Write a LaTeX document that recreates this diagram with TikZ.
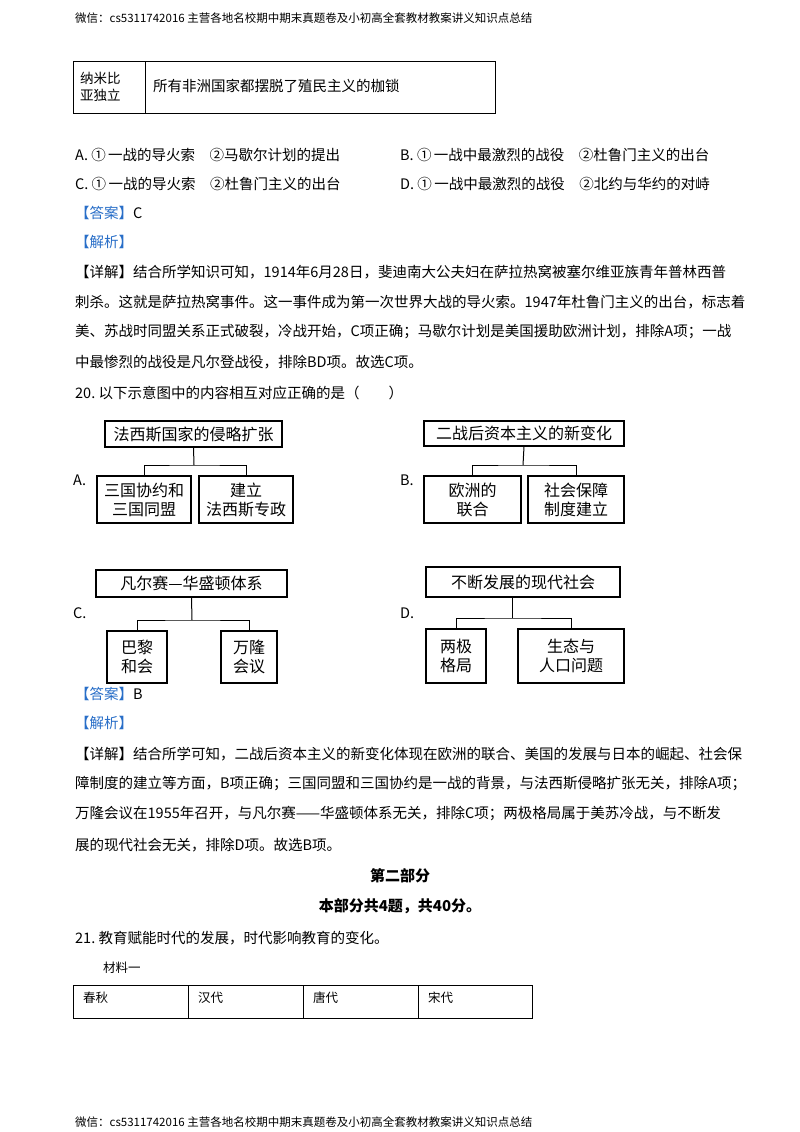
\documentclass[tikz,border=0pt]{standalone}
\usepackage{fontspec}
\setmainfont{Liberation Serif}
\newfontfamily\cjk{Noto Sans CJK SC}
\definecolor{ansblue}{RGB}{40,110,200}
\begin{document}
\begin{tikzpicture}[x=1pt,y=-1pt,
  txt/.style={anchor=west,inner sep=0pt,font=\fontsize{14.5}{16}\selectfont\cjk},
  small/.style={anchor=west,inner sep=0pt,font=\fontsize{11.5}{13}\selectfont\cjk},
  bx/.style={draw,line width=1.1pt,inner sep=0pt,font=\fontsize{16}{19}\selectfont\cjk,align=center},
  conn/.style={line width=1pt},
  tb/.style={draw,line width=1pt}]
\useasboundingbox[fill=white] (0,0) rectangle (800,1132);
% header and footer
\node[small] (hd) at (75,18) {微信：cs5311742016\ 主营各地名校期中期末真题卷及小初高全套教材教案讲义知识点总结};
\node[small] (ft) at (75,1122) {微信：cs5311742016\ 主营各地名校期中期末真题卷及小初高全套教材教案讲义知识点总结};
% top table
\draw[tb] (73,62) rectangle (495,113);
\draw[tb] (145,62) -- (145,113);
\node[txt,align=left,font=\fontsize{13.5}{17}\selectfont\cjk] (t1) at (80,87) {纳米比\\亚独立};
\node[txt] (t2) at (153,86) {所有非洲国家都摆脱了殖民主义的枷锁};
% options
\node[txt] (oa) at (75,155) {A.\ ①\,一战的导火索\quad ②马歇尔计划的提出};
\node[txt] (ob) at (400,155) {B.\ ①\,一战中最激烈的战役\quad ②杜鲁门主义的出台};
\node[txt] (oc) at (75,184) {C.\ ①\,一战的导火索\quad ②杜鲁门主义的出台};
\node[txt] (od) at (400,184) {D.\ ①\,一战中最激烈的战役\quad ②北约与华约的对峙};
\node[txt] (ans1) at (75,213) {\textcolor{ansblue}{【答案】}C};
\node[txt] (jx1) at (75,242) {\textcolor{ansblue}{【解析】}};
\node[txt] (d11) at (75,272) {【详解】结合所学知识可知，1914年6月28日，斐迪南大公夫妇在萨拉热窝被塞尔维亚族青年普林西普};
\node[txt] (d12) at (75,302) {刺杀。这就是萨拉热窝事件。这一事件成为第一次世界大战的导火索。1947年杜鲁门主义的出台，标志着};
\node[txt] (d13) at (75,332) {美、苏战时同盟关系正式破裂，冷战开始，C项正确；马歇尔计划是美国援助欧洲计划，排除A项；一战};
\node[txt] (d14) at (75,362) {中最惨烈的战役是凡尔登战役，排除BD项。故选C项。};
\node[txt] (q20) at (75,393) {20.\ 以下示意图中的内容相互对应正确的是（\qquad）};
% Diagram A
\node[bx,minimum width=177pt,minimum height=26pt] (aT) at (193.5,434) {法西斯国家的侵略扩张};
\node[bx,minimum width=94pt,minimum height=47pt] (aL) at (144,499.5) {三国协约和\\三国同盟};
\node[bx,minimum width=94pt,minimum height=47pt] (aR) at (246,499.5) {建立\\法西斯专政};
\node[txt] (la) at (73,480) {A.};
\coordinate (aM) at (194,465);
\draw[conn] (aT.south) -- (aM);
\draw[conn] (aL.north) |- (aM) -| (aR.north);
% Diagram B
\node[bx,minimum width=200pt,minimum height=25pt] (bT) at (524,433.5) {二战后资本主义的新变化};
\node[bx,minimum width=97pt,minimum height=47pt] (bL) at (472.5,499.5) {欧洲的\\联合};
\node[bx,minimum width=96pt,minimum height=47pt] (bR) at (576,499.5) {社会保障\\制度建立};
\node[txt] (lb) at (400,480) {B.};
\coordinate (bM) at (523,465);
\draw[conn] (bT.south) -- (bM);
\draw[conn] (bL.north) |- (bM) -| (bR.north);
% Diagram C
\node[bx,minimum width=191pt,minimum height=27pt] (cT) at (191.5,583.5) {凡尔赛—华盛顿体系};
\node[bx,minimum width=60pt,minimum height=52pt] (cL) at (137,657) {巴黎\\和会};
\node[bx,minimum width=56pt,minimum height=52pt] (cR) at (249,657) {万隆\\会议};
\node[txt] (lc) at (73,613) {C.};
\coordinate (cM) at (192,620);
\draw[conn] (cT.south) -- (cM);
\draw[conn] (cL.north) |- (cM) -| (cR.north);
% Diagram D
\node[bx,minimum width=194pt,minimum height=30pt] (dT) at (523,582) {不断发展的现代社会};
\node[bx,minimum width=60pt,minimum height=54pt] (dL) at (456,656) {两极\\格局};
\node[bx,minimum width=106pt,minimum height=54pt] (dR) at (571,656) {生态与\\人口问题};
\node[txt] (ld) at (400,613) {D.};
\coordinate (dM) at (512,618);
\draw[conn] (dM |- dT.south) -- (dM);
\draw[conn] (dL.north) |- (dM) -| (dR.north);
% answer 2
\node[txt] (ans2) at (75,694) {\textcolor{ansblue}{【答案】}B};
\node[txt] (jx2) at (75,723) {\textcolor{ansblue}{【解析】}};
\node[txt] (d21) at (75,754) {【详解】结合所学可知，二战后资本主义的新变化体现在欧洲的联合、美国的发展与日本的崛起、社会保};
\node[txt] (d22) at (75,784) {障制度的建立等方面，B项正确；三国同盟和三国协约是一战的背景，与法西斯侵略扩张无关，排除A项；};
\node[txt] (d23) at (75,814) {万隆会议在1955年召开，与凡尔赛——华盛顿体系无关，排除C项；两极格局属于美苏冷战，与不断发};
\node[txt] (d24) at (75,845) {展的现代社会无关，排除D项。故选B项。};
% part two
\node[inner sep=0pt,font=\fontsize{15}{17}\selectfont\cjk\bfseries] (p2) at (400,876) {第二部分};
\node[inner sep=0pt,font=\fontsize{15}{17}\selectfont\cjk\bfseries] (p2b) at (400,906) {本部分共4题，共40分。};
\node[txt] (q21) at (75,938) {21.\ 教育赋能时代的发展，时代影响教育的变化。};
\node[small,font=\fontsize{12.5}{14}\selectfont\cjk] (cl) at (103,968) {材料一};
% bottom table
\draw[tb] (73,985) rectangle (532,1018);
\draw[tb] (188,985) -- (188,1018);
\draw[tb] (303,985) -- (303,1018);
\draw[tb] (418,985) -- (418,1018);
\node[small,font=\fontsize{12.5}{14}\selectfont\cjk] (c1) at (83,998) {春秋};
\node[small,font=\fontsize{12.5}{14}\selectfont\cjk] (c2) at (198,998) {汉代};
\node[small,font=\fontsize{12.5}{14}\selectfont\cjk] (c3) at (313,998) {唐代};
\node[small,font=\fontsize{12.5}{14}\selectfont\cjk] (c4) at (428,998) {宋代};
\end{tikzpicture}
\end{document}
